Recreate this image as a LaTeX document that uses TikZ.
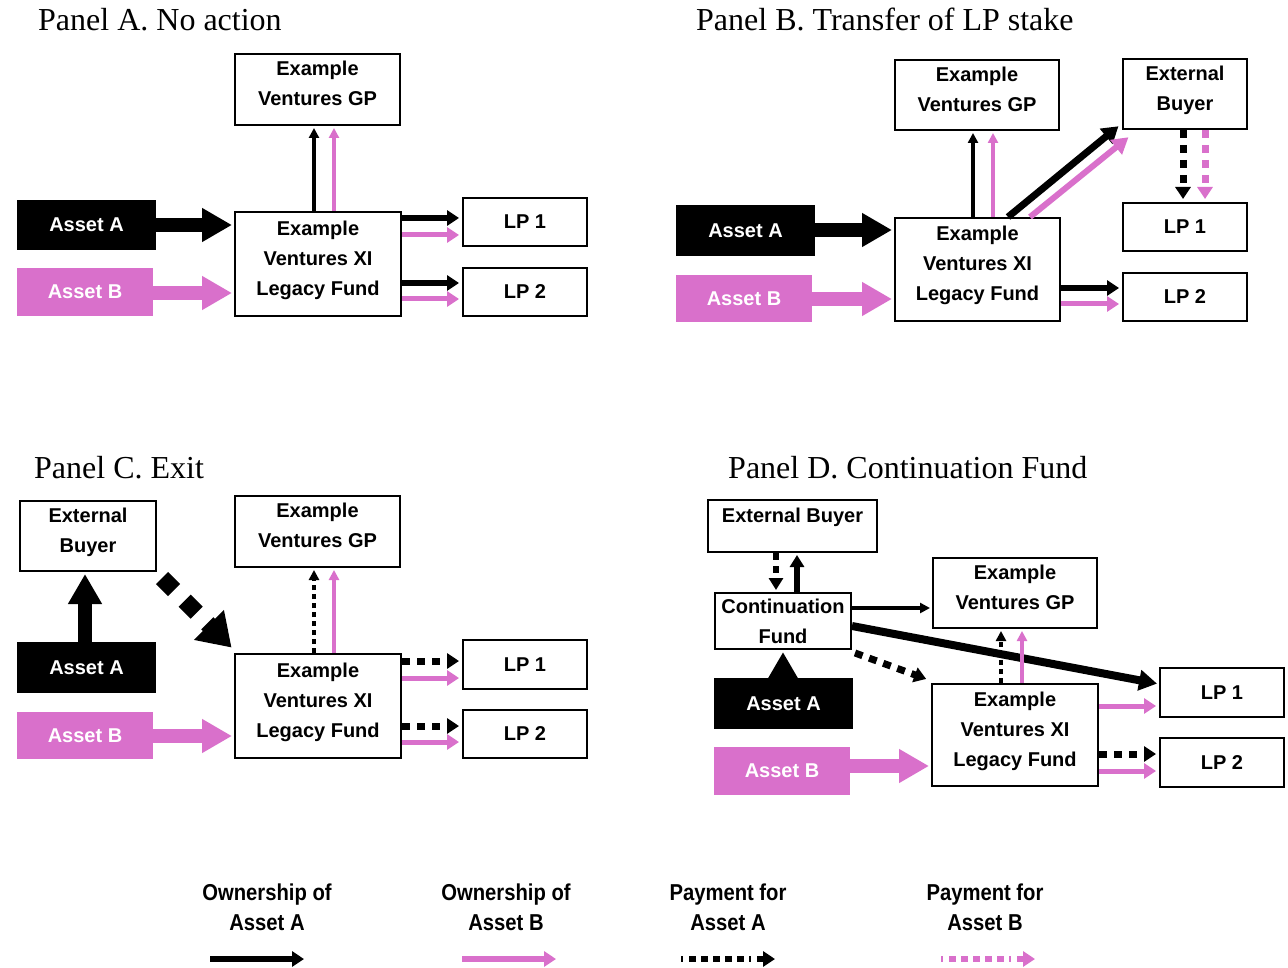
\documentclass[tikz,border=0pt]{standalone}
\usepackage{fontspec}
\setmainfont{Liberation Serif}
\setsansfont{Liberation Sans}
\newfontfamily\legfont[FakeStretch=0.88]{Liberation Sans}
\usetikzlibrary{arrows.meta,calc}
\definecolor{pk}{RGB}{217,112,203}
\newcommand\bxfont{\sffamily\bfseries\fontsize{20}{30}\selectfont}
\newcommand\ttlfont{\rmfamily\fontsize{32}{36}\selectfont}
\tikzset{
  box/.style={draw, line width=2pt, fill=white, align=center, font=\bxfont, inner sep=0pt},
  boxup/.style={box, text depth=12pt},
  assetbox/.style={fill=#1, text=white, align=center, font=\bxfont, inner sep=0pt},
  ttl/.style={anchor=base west, font=\ttlfont, inner sep=0pt},
  leg/.style={align=center, font=\legfont\bfseries\fontsize{23}{30}\selectfont, inner sep=0pt},
  bigarr/.style={line width=14pt, draw=#1, -{Triangle[width=32pt,length=30pt]}, shorten >=2pt},
  bigdash/.style={line width=17pt, draw=black, dash pattern=on 17pt off 15pt, -{Triangle[width=40pt,length=32pt]}, shorten >=2pt},
  midarr/.style={line width=6pt, draw=#1, -{Triangle[width=15pt,length=12pt]}, shorten >=3pt},
  midarrp/.style={line width=5pt, draw=pk, -{Triangle[width=15pt,length=12pt]}, shorten >=3pt},
  diagarr/.style={line width=7pt, draw=#1, -{Triangle[width=19pt,length=16pt]}, shorten >=2pt},
  thinarr/.style={line width=3.5pt, draw=#1, -{Triangle[width=10pt,length=10pt]}, shorten >=2pt},
  dotarr/.style={line width=7pt, draw=#1, dash pattern=on 8pt off 7pt, -{Triangle[width=15pt,length=12pt]}, shorten >=3pt},
  dotthin/.style={line width=4pt, draw=black, dash pattern=on 5pt off 4pt, -{Triangle[width=10pt,length=10pt]}, shorten >=2pt},
}
\begin{document}
\begin{tikzpicture}[x=1pt,y=-1pt]
\useasboundingbox[fill=white] (0,0) rectangle (1288,968);

% ---------------- Panel A ----------------
\node[ttl] (tA) at (38,31) {Panel A. No action};
\node[boxup, minimum width=165pt, minimum height=71pt] (gpA) at (317.5,89.5) {Example\\Ventures GP};
\node[boxup, minimum width=166pt, minimum height=104pt] (fundA) at (318,264) {Example\\Ventures XI\\Legacy Fund};
\node[assetbox=black, minimum width=139pt, minimum height=50pt] (aAA) at (86.5,225) {Asset A};
\node[assetbox=pk, minimum width=136pt, minimum height=48pt] (aBA) at (85,292) {Asset B};
\node[box, minimum width=124pt, minimum height=48pt] (lp1A) at (525,222) {LP 1};
\node[box, minimum width=124pt, minimum height=48pt] (lp2A) at (525,292) {LP 2};
\draw[bigarr=black] (aAA.east) -- (fundA.west |- aAA.east);
\draw[bigarr=pk] (aBA.east |- 0,293) -- (fundA.west |- 0,293);
\draw[thinarr=black] (fundA.north -| 314,0) -- (gpA.south -| 314,0);
\draw[thinarr=pk] (fundA.north -| 334,0) -- (gpA.south -| 334,0);
\draw[midarr=black] (fundA.east |- 0,218) -- (lp1A.west |- 0,218);
\draw[midarrp] (fundA.east |- 0,235) -- (lp1A.west |- 0,235);
\draw[midarr=black] (fundA.east |- 0,283) -- (lp2A.west |- 0,283);
\draw[midarrp] (fundA.east |- 0,299) -- (lp2A.west |- 0,299);

% ---------------- Panel B ----------------
\node[ttl] (tB) at (696,31) {Panel B. Transfer of LP stake};
\node[boxup, minimum width=164pt, minimum height=70pt] (gpB) at (977,95) {Example\\Ventures GP};
\node[boxup, minimum width=124pt, minimum height=70pt] (buyB) at (1185,94) {External\\Buyer};
\node[boxup, minimum width=165pt, minimum height=103pt] (fundB) at (977.5,269.5) {Example\\Ventures XI\\Legacy Fund};
\node[assetbox=black, minimum width=139pt, minimum height=51pt] (aAB) at (745.5,230.5) {Asset A};
\node[assetbox=pk, minimum width=136pt, minimum height=47pt] (aBB) at (744,298.5) {Asset B};
\node[box, minimum width=124pt, minimum height=48pt] (lp1B) at (1185,227) {LP 1};
\node[box, minimum width=124pt, minimum height=48pt] (lp2B) at (1185,297) {LP 2};
\draw[bigarr=black] (aAB.east |- 0,230) -- (fundB.west |- 0,230);
\draw[bigarr=pk] (aBB.east |- 0,299) -- (fundB.west |- 0,299);
\draw[thinarr=black] (fundB.north -| 973,0) -- (gpB.south -| 973,0);
\draw[thinarr=pk] (fundB.north -| 993,0) -- (gpB.south -| 993,0);
\draw[diagarr=black] (fundB.north -| 1008,0) -- ([shift={(-2,-5)}]buyB.south west);
\draw[line width=6pt, draw=pk, -{Triangle[width=18pt,length=16pt]}, shorten >=2pt] (fundB.north -| 1030,0) -- ([shift={(8,6)}]buyB.south west);
\draw[dotarr=black] (buyB.south -| 1183,0) -- (lp1B.north -| 1183,0);
\draw[dotarr=pk] (buyB.south -| 1205,0) -- (lp1B.north -| 1205,0);
\draw[midarr=black] (fundB.east |- 0,288) -- (lp2B.west |- 0,288);
\draw[midarrp] (fundB.east |- 0,304) -- (lp2B.west |- 0,304);

% ---------------- Panel C ----------------
\node[ttl] (tC) at (34,478) {Panel C. Exit};
\node[boxup, minimum width=136pt, minimum height=70pt] (buyC) at (88,536) {External\\Buyer};
\node[boxup, minimum width=165pt, minimum height=71pt] (gpC) at (317.5,531.5) {Example\\Ventures GP};
\node[boxup, minimum width=166pt, minimum height=104pt] (fundC) at (318,706) {Example\\Ventures XI\\Legacy Fund};
\node[assetbox=black, minimum width=139pt, minimum height=51pt] (aAC) at (86.5,667.5) {Asset A};
\node[assetbox=pk, minimum width=136pt, minimum height=47pt] (aBC) at (85,735.5) {Asset B};
\node[box, minimum width=124pt, minimum height=49pt] (lp1C) at (525,664.5) {LP 1};
\node[box, minimum width=124pt, minimum height=48pt] (lp2C) at (525,734) {LP 2};
\draw[bigarr=black] (aAC.north -| 85,0) -- (buyC.south -| 85,0);
\draw[bigdash] ([shift={(5,6)}]buyC.south east) -- ([shift={(-1,-4)}]fundC.north west);
\draw[bigarr=pk] (aBC.east |- 0,736) -- (fundC.west |- 0,736);
\draw[dotthin] (fundC.north -| 314,0) -- (gpC.south -| 314,0);
\draw[thinarr=pk] (fundC.north -| 334,0) -- (gpC.south -| 334,0);
\draw[dotarr=black] (fundC.east |- 0,661) -- (lp1C.west |- 0,661);
\draw[midarrp] (fundC.east |- 0,678) -- (lp1C.west |- 0,678);
\draw[dotarr=black] (fundC.east |- 0,726) -- (lp2C.west |- 0,726);
\draw[midarrp] (fundC.east |- 0,742) -- (lp2C.west |- 0,742);

% ---------------- Panel D ----------------
\node[ttl] (tD) at (728,478) {Panel D. Continuation Fund};
\node[box, text depth=22pt, minimum width=169pt, minimum height=52pt] (buyD) at (792.5,526) {External Buyer};
\node[box, minimum width=136pt, minimum height=56pt] (cfD) at (783,621) {Continuation\\Fund};
\node[boxup, minimum width=164pt, minimum height=70pt] (gpD) at (1015,593) {Example\\Ventures GP};
\node[boxup, minimum width=166pt, minimum height=102pt] (fundD) at (1015,735) {Example\\Ventures XI\\Legacy Fund};
\node[assetbox=black, minimum width=139pt, minimum height=51pt] (aAD) at (783.5,703.5) {Asset A};
\node[assetbox=pk, minimum width=136pt, minimum height=48pt] (aBD) at (782,771) {Asset B};
\node[box, minimum width=124pt, minimum height=49pt] (lp1D) at (1222,692.5) {LP 1};
\node[box, minimum width=124pt, minimum height=49pt] (lp2D) at (1222,762.5) {LP 2};
\draw[line width=6pt, draw=black, dash pattern=on 7pt off 6pt, -{Triangle[width=14pt,length=12pt]}, shorten >=2pt] (buyD.south -| 776,0) -- (cfD.north -| 776,0);
\draw[line width=6pt, draw=black, -{Triangle[width=14pt,length=12pt]}, shorten >=2pt] (cfD.north -| 797,0) -- (buyD.south -| 797,0);
\draw[bigarr=black] (aAD.north -| 783,0) -- (cfD.south -| 783,0);
\draw[thinarr=black] (cfD.east |- 0,608) -- (gpD.west |- 0,608);
\draw[line width=8pt, draw=black, -{Triangle[width=20pt,length=18pt]}, shorten >=2pt] (cfD.east |- 0,626) -- (lp1D.west |- 0,684);
\draw[dotarr=black] ([shift={(3,3)}]cfD.south east) -- ([shift={(-2,-3)}]fundD.north west);
\draw[dotthin] (fundD.north -| 1001,0) -- (gpD.south -| 1001,0);
\draw[thinarr=pk] (fundD.north -| 1022,0) -- (gpD.south -| 1022,0);
\draw[bigarr=pk] (aBD.east |- 0,766) -- (fundD.west |- 0,766);
\draw[midarrp] (fundD.east |- 0,706) -- (lp1D.west |- 0,706);
\draw[dotarr=black] (fundD.east |- 0,754) -- (lp2D.west |- 0,754);
\draw[midarrp] (fundD.east |- 0,771) -- (lp2D.west |- 0,771);

% ---------------- Legend ----------------
\node[leg] (lg1) at (267,907) {Ownership of\\Asset A};
\node[leg] (lg2) at (506,907) {Ownership of\\Asset B};
\node[leg] (lg3) at (728,907) {Payment for\\Asset A};
\node[leg] (lg4) at (985,907) {Payment for\\Asset B};
\coordinate (l1s) at (210,959); \coordinate (l1e) at (304,959);
\coordinate (l2s) at (462,959); \coordinate (l2e) at (556,959);
\coordinate (l3s) at (681,959); \coordinate (l3e) at (775,959);
\coordinate (l4s) at (941,959); \coordinate (l4e) at (1035,959);
\draw[line width=6pt, draw=black, -{Triangle[width=15pt,length=12pt]}] (l1s) -- (l1e);
\draw[line width=6pt, draw=pk, -{Triangle[width=15pt,length=12pt]}] (l2s) -- (l2e);
\draw[line width=6pt, draw=black, dash pattern=on 2pt off 6pt on 7pt off 5pt on 7pt off 5pt on 7pt off 5pt on 7pt off 5pt on 7pt off 5pt, -{Triangle[width=15pt,length=12pt]}] (l3s) -- (l3e);
\draw[line width=6pt, draw=pk, dash pattern=on 2pt off 6pt on 7pt off 5pt on 7pt off 5pt on 7pt off 5pt on 7pt off 5pt on 7pt off 5pt, -{Triangle[width=15pt,length=12pt]}] (l4s) -- (l4e);
\end{tikzpicture}
\end{document}
